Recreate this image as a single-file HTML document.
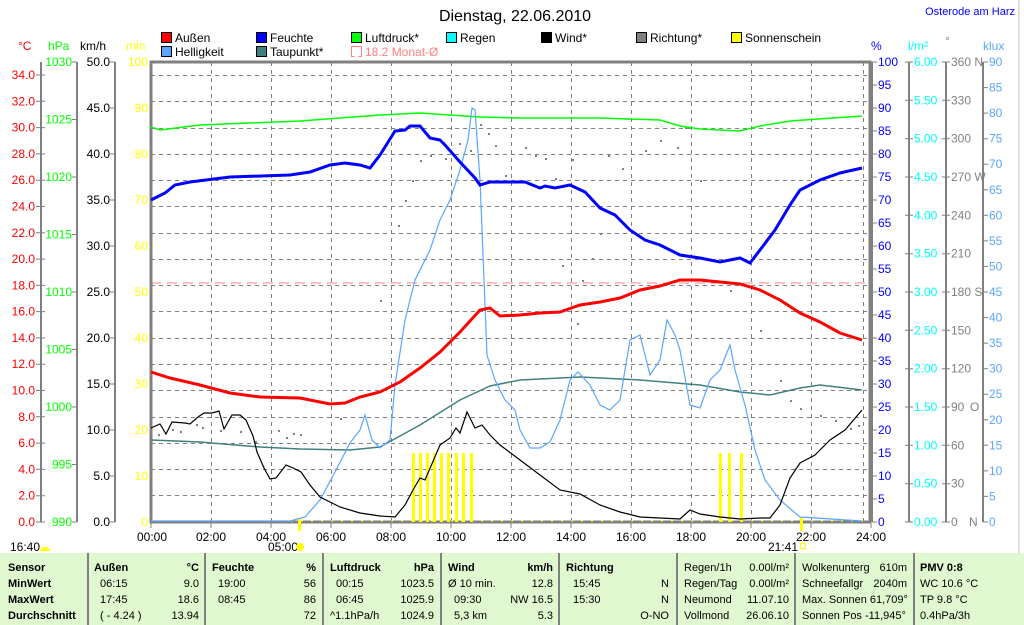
<!DOCTYPE html>
<html><head><meta charset="utf-8"><style>
body{margin:0;background:#fff;width:1024px;height:625px;overflow:hidden;font-family:"Liberation Sans",sans-serif}
svg{position:absolute;left:0;top:0}
text{font-family:"Liberation Sans",sans-serif;font-size:12px}
.tb text{font-size:11px}
</style></head><body>
<svg width="1024" height="625" viewBox="0 0 1024 625">
<rect x="0" y="0" width="1024" height="625" fill="#fff"/>
<line x1="1019" y1="0" x2="1019" y2="553" stroke="#c0c0c0" stroke-width="1"/>
<text x="515" y="21" text-anchor="middle" style="font-size:16px">Dienstag, 22.06.2010</text>
<text x="1015" y="15" text-anchor="end" fill="#0000ff" style="font-size:11px">Osterode am Harz</text>

<g style="font-size:12px">
<rect x="161.5" y="32.5" width="10" height="10" fill="#ff0000" stroke="#000"/><text x="175" y="42">Außen</text>
<rect x="256.5" y="32.5" width="10" height="10" fill="#0000ff" stroke="#000"/><text x="270" y="42">Feuchte</text>
<rect x="351.5" y="32.5" width="10" height="10" fill="#00ff00" stroke="#000"/><text x="365" y="42">Luftdruck*</text>
<rect x="446.5" y="32.5" width="10" height="10" fill="#00ffff" stroke="#000"/><text x="460" y="42">Regen</text>
<rect x="541.5" y="32.5" width="10" height="10" fill="#000" stroke="#000"/><text x="555" y="42">Wind*</text>
<rect x="636.5" y="32.5" width="10" height="10" fill="#808080" stroke="#000"/><text x="650" y="42">Richtung*</text>
<rect x="731.5" y="32.5" width="10" height="10" fill="#ffff00" stroke="#000"/><text x="745" y="42">Sonnenschein</text>
<rect x="161.5" y="46.5" width="10" height="10" fill="#5aa5ff" stroke="#000"/><text x="175" y="56">Helligkeit</text>
<rect x="256.5" y="46.5" width="10" height="10" fill="#408080" stroke="#000"/><text x="270" y="56">Taupunkt*</text>
<path d="M351.5 46.5h10v10h-3" fill="none" stroke="#ff8080"/><path d="M351.5 46.5v10h3" fill="none" stroke="#ff8080"/><text x="365" y="56" fill="#ff8080">18.2 Monat-Ø</text>
</g>

<text x="18" y="50" fill="#ff0000">°C</text>
<text x="48" y="50" fill="#00ff00">hPa</text>
<text x="80" y="50" fill="#000">km/h</text>
<text x="126" y="50" fill="#ffff00">min</text>
<text x="871" y="50" fill="#0000ff">%</text>
<text x="908" y="50" fill="#00ffff">l/m²</text>
<text x="945" y="45" fill="#808080">°</text>
<text x="983" y="50" fill="#5aa5ff">klux</text>

<g stroke="#808080" stroke-dasharray="4,4" stroke-width="1">
<path d="M151 75.5H870M151 101.5H870M151 128.5H870M151 154.5H870M151 180.5H870M151 206.5H870M151 233.5H870M151 259.5H870M151 285.5H870M151 311.5H870M151 338.5H870M151 364.5H870M151 390.5H870M151 417.5H870M151 443.5H870M151 469.5H870M151 495.5H870"/>
<path d="M211.5 62V522M271.5 62V522M331.5 62V522M391.5 62V522M451.5 62V522M511.5 62V522M571.5 62V522M631.5 62V522M691.5 62V522M751.5 62V522M811.5 62V522M863.5 62V522"/>
</g>
<line x1="151" y1="283" x2="870" y2="283" stroke="#ff8080" stroke-dasharray="10,6"/>

<g stroke="#808080" stroke-width="2" fill="none">
<line x1="41" y1="62" x2="41" y2="522"/>
<line x1="77" y1="62" x2="77" y2="522"/>
<line x1="115" y1="62" x2="115" y2="522"/>
<rect x="151" y="62" width="719" height="460" stroke-width="3"/>
<line x1="872" y1="62" x2="872" y2="522"/>
<line x1="909" y1="62" x2="909" y2="522"/>
<line x1="946" y1="62" x2="946" y2="522"/>
<line x1="983" y1="62" x2="983" y2="522"/>
</g>
<g stroke="#808080" stroke-width="1">
<path d="M36 522h9M36 495.7h9M36 469.4h9M36 443.1h9M36 416.8h9M36 390.5h9M36 364.2h9M36 337.9h9M36 311.6h9M36 285.4h9M36 259.1h9M36 232.8h9M36 206.5h9M36 180.2h9M36 153.9h9M36 127.6h9M36 101.3h9M36 75h9"/>
<path d="M72 522h5M72 464.5h5M72 407h5M72 349.5h5M72 292h5M72 234.5h5M72 177h5M72 119.5h5M72 62h5"/>
<path d="M110 522h5M110 476h5M110 430h5M110 384h5M110 338h5M110 292h5M110 246h5M110 200h5M110 154h5M110 108h5M110 62h5"/>
<path d="M872 62h5M872 85h5M872 108h5M872 131h5M872 154h5M872 177h5M872 200h5M872 223h5M872 246h5M872 269h5M872 292h5M872 315h5M872 338h5M872 361h5M872 384h5M872 407h5M872 430h5M872 453h5M872 476h5M872 499h5M872 522h5"/>
<path d="M905 62h8M905 100.3h8M905 138.7h8M905 177h8M905 215.3h8M905 253.7h8M905 292h8M905 330.3h8M905 368.7h8M905 407h8M905 445.3h8M905 483.7h8M905 522h8"/>
<path d="M942 62h8M942 100.3h8M942 138.7h8M942 177h8M942 215.3h8M942 253.7h8M942 292h8M942 330.3h8M942 368.7h8M942 407h8M942 445.3h8M942 483.7h8M942 522h8"/>
<path d="M983 62h5M983 87.6h5M983 113.1h5M983 138.7h5M983 164.2h5M983 189.8h5M983 215.3h5M983 240.9h5M983 266.4h5M983 292h5M983 317.6h5M983 343.1h5M983 368.7h5M983 394.2h5M983 419.8h5M983 445.3h5M983 470.9h5M983 496.4h5M983 522h5"/>
<path d="M151 522v6M211 522v6M271 522v6M331 522v6M391 522v6M451 522v6M511 522v6M571 522v6M631 522v6M691 522v6M751 522v6M811 522v6M871 522v6"/>
</g>

<g fill="#ff0000" text-anchor="end">
<text x="35" y="526">0.0</text><text x="35" y="499.7">2.0</text><text x="35" y="473.4">4.0</text><text x="35" y="447.1">6.0</text><text x="35" y="420.8">8.0</text><text x="35" y="394.5">10.0</text><text x="35" y="368.2">12.0</text><text x="35" y="341.9">14.0</text><text x="35" y="315.6">16.0</text><text x="35" y="289.4">18.0</text><text x="35" y="263.1">20.0</text><text x="35" y="236.8">22.0</text><text x="35" y="210.5">24.0</text><text x="35" y="184.2">26.0</text><text x="35" y="157.9">28.0</text><text x="35" y="131.6">30.0</text><text x="35" y="105.3">32.0</text><text x="35" y="79">34.0</text>
</g>
<g fill="#00ff00" text-anchor="end">
<text x="72" y="526">990</text><text x="72" y="468.5">995</text><text x="72" y="411">1000</text><text x="72" y="353.5">1005</text><text x="72" y="296">1010</text><text x="72" y="238.5">1015</text><text x="72" y="181">1020</text><text x="72" y="123.5">1025</text><text x="72" y="66">1030</text>
</g>
<g fill="#000" text-anchor="end">
<text x="110" y="526">0.0</text><text x="110" y="480">5.0</text><text x="110" y="434">10.0</text><text x="110" y="388">15.0</text><text x="110" y="342">20.0</text><text x="110" y="296">25.0</text><text x="110" y="250">30.0</text><text x="110" y="204">35.0</text><text x="110" y="158">40.0</text><text x="110" y="112">45.0</text><text x="110" y="66">50.0</text>
</g>
<g fill="#ffff00" text-anchor="end">
<text x="148" y="526">0</text><text x="148" y="480">10</text><text x="148" y="434">20</text><text x="148" y="388">30</text><text x="148" y="342">40</text><text x="148" y="296">50</text><text x="148" y="250">60</text><text x="148" y="204">70</text><text x="148" y="158">80</text><text x="148" y="112">90</text><text x="148" y="66">100</text>
</g>
<g fill="#0000ff">
<text x="878" y="66">100</text><text x="878" y="89">95</text><text x="878" y="112">90</text><text x="878" y="135">85</text><text x="878" y="158">80</text><text x="878" y="181">75</text><text x="878" y="204">70</text><text x="878" y="227">65</text><text x="878" y="250">60</text><text x="878" y="273">55</text><text x="878" y="296">50</text><text x="878" y="319">45</text><text x="878" y="342">40</text><text x="878" y="365">35</text><text x="878" y="388">30</text><text x="878" y="411">25</text><text x="878" y="434">20</text><text x="878" y="457">15</text><text x="878" y="480">10</text><text x="878" y="503">5</text><text x="878" y="526">0</text>
</g>
<g fill="#00ffff">
<text x="914" y="66">6.00</text><text x="914" y="104.3">5.50</text><text x="914" y="142.7">5.00</text><text x="914" y="181">4.50</text><text x="914" y="219.3">4.00</text><text x="914" y="257.7">3.50</text><text x="914" y="296">3.00</text><text x="914" y="334.3">2.50</text><text x="914" y="372.7">2.00</text><text x="914" y="411">1.50</text><text x="914" y="449.3">1.00</text><text x="914" y="487.7">0.50</text><text x="914" y="526">0.00</text>
</g>
<g fill="#808080">
<text x="951" y="66">360 N</text><text x="951" y="104.3">330</text><text x="951" y="142.7">300</text><text x="951" y="181">270 W</text><text x="951" y="219.3">240</text><text x="951" y="257.7">210</text><text x="951" y="296">180 S</text><text x="951" y="334.3">150</text><text x="951" y="372.7">120</text><text x="951" y="411">90</text><text x="970" y="411">O</text><text x="951" y="449.3">60</text><text x="951" y="487.7">30</text><text x="951" y="526">0</text><text x="969" y="526">N</text>
</g>
<g fill="#5aa5ff">
<text x="989" y="66">90</text><text x="989" y="91.6">85</text><text x="989" y="117.1">80</text><text x="989" y="142.7">75</text><text x="989" y="168.2">70</text><text x="989" y="193.8">65</text><text x="989" y="219.3">60</text><text x="989" y="244.9">55</text><text x="989" y="270.4">50</text><text x="989" y="296">45</text><text x="989" y="321.6">40</text><text x="989" y="347.1">35</text><text x="989" y="372.7">30</text><text x="989" y="398.2">25</text><text x="989" y="423.8">20</text><text x="989" y="449.3">15</text><text x="989" y="474.9">10</text><text x="989" y="500.4">5</text><text x="989" y="526">0</text>
</g>

<g fill="#808080">
<rect x="158" y="434" width="2" height="2"/><rect x="172" y="429" width="2" height="2"/><rect x="180" y="431" width="2" height="2"/><rect x="196" y="424" width="2" height="2"/><rect x="202" y="427" width="2" height="2"/><rect x="220" y="430" width="2" height="2"/><rect x="240" y="431" width="2" height="2"/><rect x="255" y="441" width="2" height="2"/><rect x="278" y="430" width="2" height="2"/><rect x="286" y="437" width="2" height="2"/><rect x="293" y="433" width="2" height="2"/><rect x="300" y="434" width="2" height="2"/><rect x="340" y="418" width="2" height="2"/><rect x="380" y="300" width="2" height="2"/><rect x="398" y="225" width="2" height="2"/><rect x="405" y="200" width="2" height="2"/><rect x="412" y="180" width="2" height="2"/><rect x="420" y="160" width="2" height="2"/><rect x="430" y="155" width="2" height="2"/><rect x="445" y="158" width="2" height="2"/><rect x="459" y="143" width="2" height="2"/><rect x="470" y="150" width="2" height="2"/><rect x="480" y="124" width="2" height="2"/><rect x="488" y="133" width="2" height="2"/><rect x="495" y="145" width="2" height="2"/><rect x="505" y="175" width="2" height="2"/><rect x="525" y="147" width="2" height="2"/><rect x="535" y="155" width="2" height="2"/><rect x="545" y="158" width="2" height="2"/><rect x="555" y="178" width="2" height="2"/><rect x="562" y="265" width="2" height="2"/><rect x="572" y="159" width="2" height="2"/><rect x="577" y="323" width="2" height="2"/><rect x="582" y="280" width="2" height="2"/><rect x="592" y="258" width="2" height="2"/><rect x="600" y="233" width="2" height="2"/><rect x="608" y="155" width="2" height="2"/><rect x="622" y="168" width="2" height="2"/><rect x="645" y="150" width="2" height="2"/><rect x="660" y="140" width="2" height="2"/><rect x="677" y="147" width="2" height="2"/><rect x="685" y="127" width="2" height="2"/><rect x="700" y="180" width="2" height="2"/><rect x="730" y="290" width="2" height="2"/><rect x="760" y="330" width="2" height="2"/><rect x="780" y="380" width="2" height="2"/><rect x="790" y="400" width="2" height="2"/><rect x="800" y="408" width="2" height="2"/><rect x="820" y="415" width="2" height="2"/><rect x="835" y="420" width="2" height="2"/><rect x="850" y="428" width="2" height="2"/><rect x="858" y="425" width="2" height="2"/>
</g>

<g fill="#ffff00">
<rect x="412" y="453" width="3" height="69"/><rect x="419" y="453" width="3" height="69"/><rect x="426" y="453" width="3" height="69"/><rect x="433" y="453" width="3" height="69"/><rect x="440" y="453" width="3" height="69"/><rect x="447" y="453" width="3" height="69"/><rect x="455" y="453" width="3" height="69"/><rect x="462" y="453" width="3" height="69"/><rect x="470" y="453" width="3" height="69"/>
<rect x="719" y="453" width="3" height="69"/><rect x="728" y="453" width="3" height="69"/><rect x="740" y="453" width="3" height="69"/>
<rect x="298" y="518" width="3" height="13"/><rect x="800" y="518" width="3" height="13"/>
</g>
<line x1="151" y1="521" x2="870" y2="521" stroke="#ffff00" stroke-dasharray="2,8"/>

<polyline fill="none" stroke="#00ff00" stroke-width="1.5" points="151,127 160,130 200,125 300,121 380,115 420,113 480,117 520,118 600,118 660,120 680,126 700,129 740,131 760,126 790,121 862,116"/>
<polyline fill="none" stroke="#408080" stroke-width="1.5" points="151,440 200,442 260,447 300,449 350,450 380,447 420,425 460,400 490,386 520,380 580,377 640,380 700,385 740,392 770,395 800,388 820,385 862,390"/>
<polyline fill="none" stroke="#5aa5ff" stroke-width="1.2" points="151,521 290,521 305,517 320,500 335,472 350,443 360,430 365,415 372,440 380,448 390,440 395,385 405,320 415,280 430,250 440,220 450,200 460,170 468,140 472,108 475,110 480,180 487,355 495,380 505,400 515,410 520,430 530,448 540,448 550,442 560,420 570,380 578,372 590,385 600,405 610,410 620,400 630,340 640,335 650,375 660,360 667,320 675,335 680,350 690,405 700,408 710,380 720,370 730,345 735,370 745,405 755,450 765,480 780,500 800,517 862,521"/>
<polyline fill="none" stroke="#000" stroke-width="1.2" points="151,428 160,424 166,434 172,422 185,423 190,424 198,417 204,413 212,413 219,411 224,429 232,415 240,415 246,420 253,436 257,452 264,468 270,479 276,478 286,465 293,468 301,472 310,485 320,497 340,507 360,513 380,516 395,517 405,505 413,490 420,478 425,480 440,445 450,438 456,428 460,433 467,412 475,428 482,425 490,435 500,445 520,460 540,475 560,490 580,494 600,505 620,512 640,517 680,519 690,510 700,514 720,517 740,519 760,518 770,518 780,505 790,478 800,463 815,455 830,440 845,430 862,410"/>
<polyline fill="none" stroke="#ff0000" stroke-width="3" points="151,372 170,378 200,385 230,393 260,397 300,398 330,404 345,403 360,397 380,392 400,382 420,368 440,352 460,332 480,310 490,308 500,316 520,315 540,313 560,312 580,305 600,302 620,298 640,290 660,286 680,280 700,280 720,282 740,284 760,290 780,300 800,313 820,322 840,333 862,340"/>
<polyline fill="none" stroke="#0000ff" stroke-width="3" points="151,200 165,193 175,185 190,182 230,177 290,175 310,172 330,165 345,163 360,165 370,168 380,155 395,131 405,130 410,126 420,126 430,138 440,140 445,145 460,162 475,178 480,185 490,182 525,182 540,188 545,186 555,188 570,185 585,192 600,208 615,215 630,230 645,240 660,245 680,255 700,258 720,262 740,258 750,263 760,250 775,230 790,205 800,190 820,180 840,173 862,168"/>

<g fill="#000" text-anchor="middle">
<text x="152" y="541">00:00</text><text x="211" y="541">02:00</text><text x="271" y="541">04:00</text><text x="331" y="541">06:00</text><text x="391" y="541">08:00</text><text x="451" y="541">10:00</text><text x="511" y="541">12:00</text><text x="571" y="541">14:00</text><text x="631" y="541">16:00</text><text x="691" y="541">18:00</text><text x="751" y="541">20:00</text><text x="811" y="541">22:00</text><text x="871" y="541">24:00</text>
</g>
<text x="10" y="551">16:40</text><path d="M40 551a5 4 0 0 1 10 0z" fill="#ffff00"/>
<text x="268" y="551">05:00</text><circle cx="300" cy="547" r="4" fill="#ffff00"/>
<text x="768" y="551">21:41</text><rect x="800.5" y="543.5" width="5" height="5" fill="none" stroke="#ffff00"/>

<rect x="0" y="553" width="1024" height="72" fill="#e0f8d0"/>
<g stroke="#808080" stroke-width="2">
<path d="M88 553V625M205 553V625M323 553V625M441 553V625M559 553V625M677 553V625M795 553V625M914 553V625"/>
</g>
<g class="tb">
<g style="font-weight:bold">
<text x="8" y="571">Sensor</text><text x="8" y="587">MinWert</text><text x="8" y="603">MaxWert</text><text x="8" y="619">Durchschnitt</text>
<text x="94" y="571">Außen</text><text x="199" y="571" text-anchor="end">°C</text>
<text x="212" y="571">Feuchte</text><text x="316" y="571" text-anchor="end">%</text>
<text x="330" y="571">Luftdruck</text><text x="434" y="571" text-anchor="end">hPa</text>
<text x="448" y="571">Wind</text><text x="553" y="571" text-anchor="end">km/h</text>
<text x="566" y="571">Richtung</text>
<text x="920" y="571">PMV 0:8</text>
</g>
<text x="100" y="587">06:15</text><text x="199" y="587" text-anchor="end">9.0</text>
<text x="100" y="603">17:45</text><text x="199" y="603" text-anchor="end">18.6</text>
<text x="100" y="619">( - 4.24 )</text><text x="199" y="619" text-anchor="end">13.94</text>
<text x="218" y="587">19:00</text><text x="316" y="587" text-anchor="end">56</text>
<text x="218" y="603">08:45</text><text x="316" y="603" text-anchor="end">86</text>
<text x="316" y="619" text-anchor="end">72</text>
<text x="336" y="587">00:15</text><text x="434" y="587" text-anchor="end">1023.5</text>
<text x="336" y="603">06:45</text><text x="434" y="603" text-anchor="end">1025.9</text>
<text x="330" y="619">^1.1hPa/h</text><text x="434" y="619" text-anchor="end">1024.9</text>
<text x="448" y="587">Ø 10 min.</text><text x="553" y="587" text-anchor="end">12.8</text>
<text x="454" y="603">09:30</text><text x="553" y="603" text-anchor="end">NW 16.5</text>
<text x="454" y="619">5,3 km</text><text x="553" y="619" text-anchor="end">5.3</text>
<text x="573" y="587">15:45</text><text x="669" y="587" text-anchor="end">N</text>
<text x="573" y="603">15:30</text><text x="669" y="603" text-anchor="end">N</text>
<text x="669" y="619" text-anchor="end">O-NO</text>
<text x="684" y="571">Regen/1h</text><text x="789" y="571" text-anchor="end">0.00l/m²</text>
<text x="684" y="587">Regen/Tag</text><text x="789" y="587" text-anchor="end">0.00l/m²</text>
<text x="684" y="603">Neumond</text><text x="789" y="603" text-anchor="end">11.07.10</text>
<text x="684" y="619">Vollmond</text><text x="789" y="619" text-anchor="end">26.06.10</text>
<text x="802" y="571">Wolkenunterg</text><text x="907" y="571" text-anchor="end">610m</text>
<text x="802" y="587">Schneefallgr</text><text x="907" y="587" text-anchor="end">2040m</text>
<text x="802" y="603">Max. Sonnen 61,709°</text>
<text x="802" y="619">Sonnen Pos -11,945°</text>
<text x="920" y="587">WC 10.6 °C</text>
<text x="920" y="603">TP 9.8 °C</text>
<text x="920" y="619">0.4hPa/3h</text>
</g>
</svg>
</body></html>
